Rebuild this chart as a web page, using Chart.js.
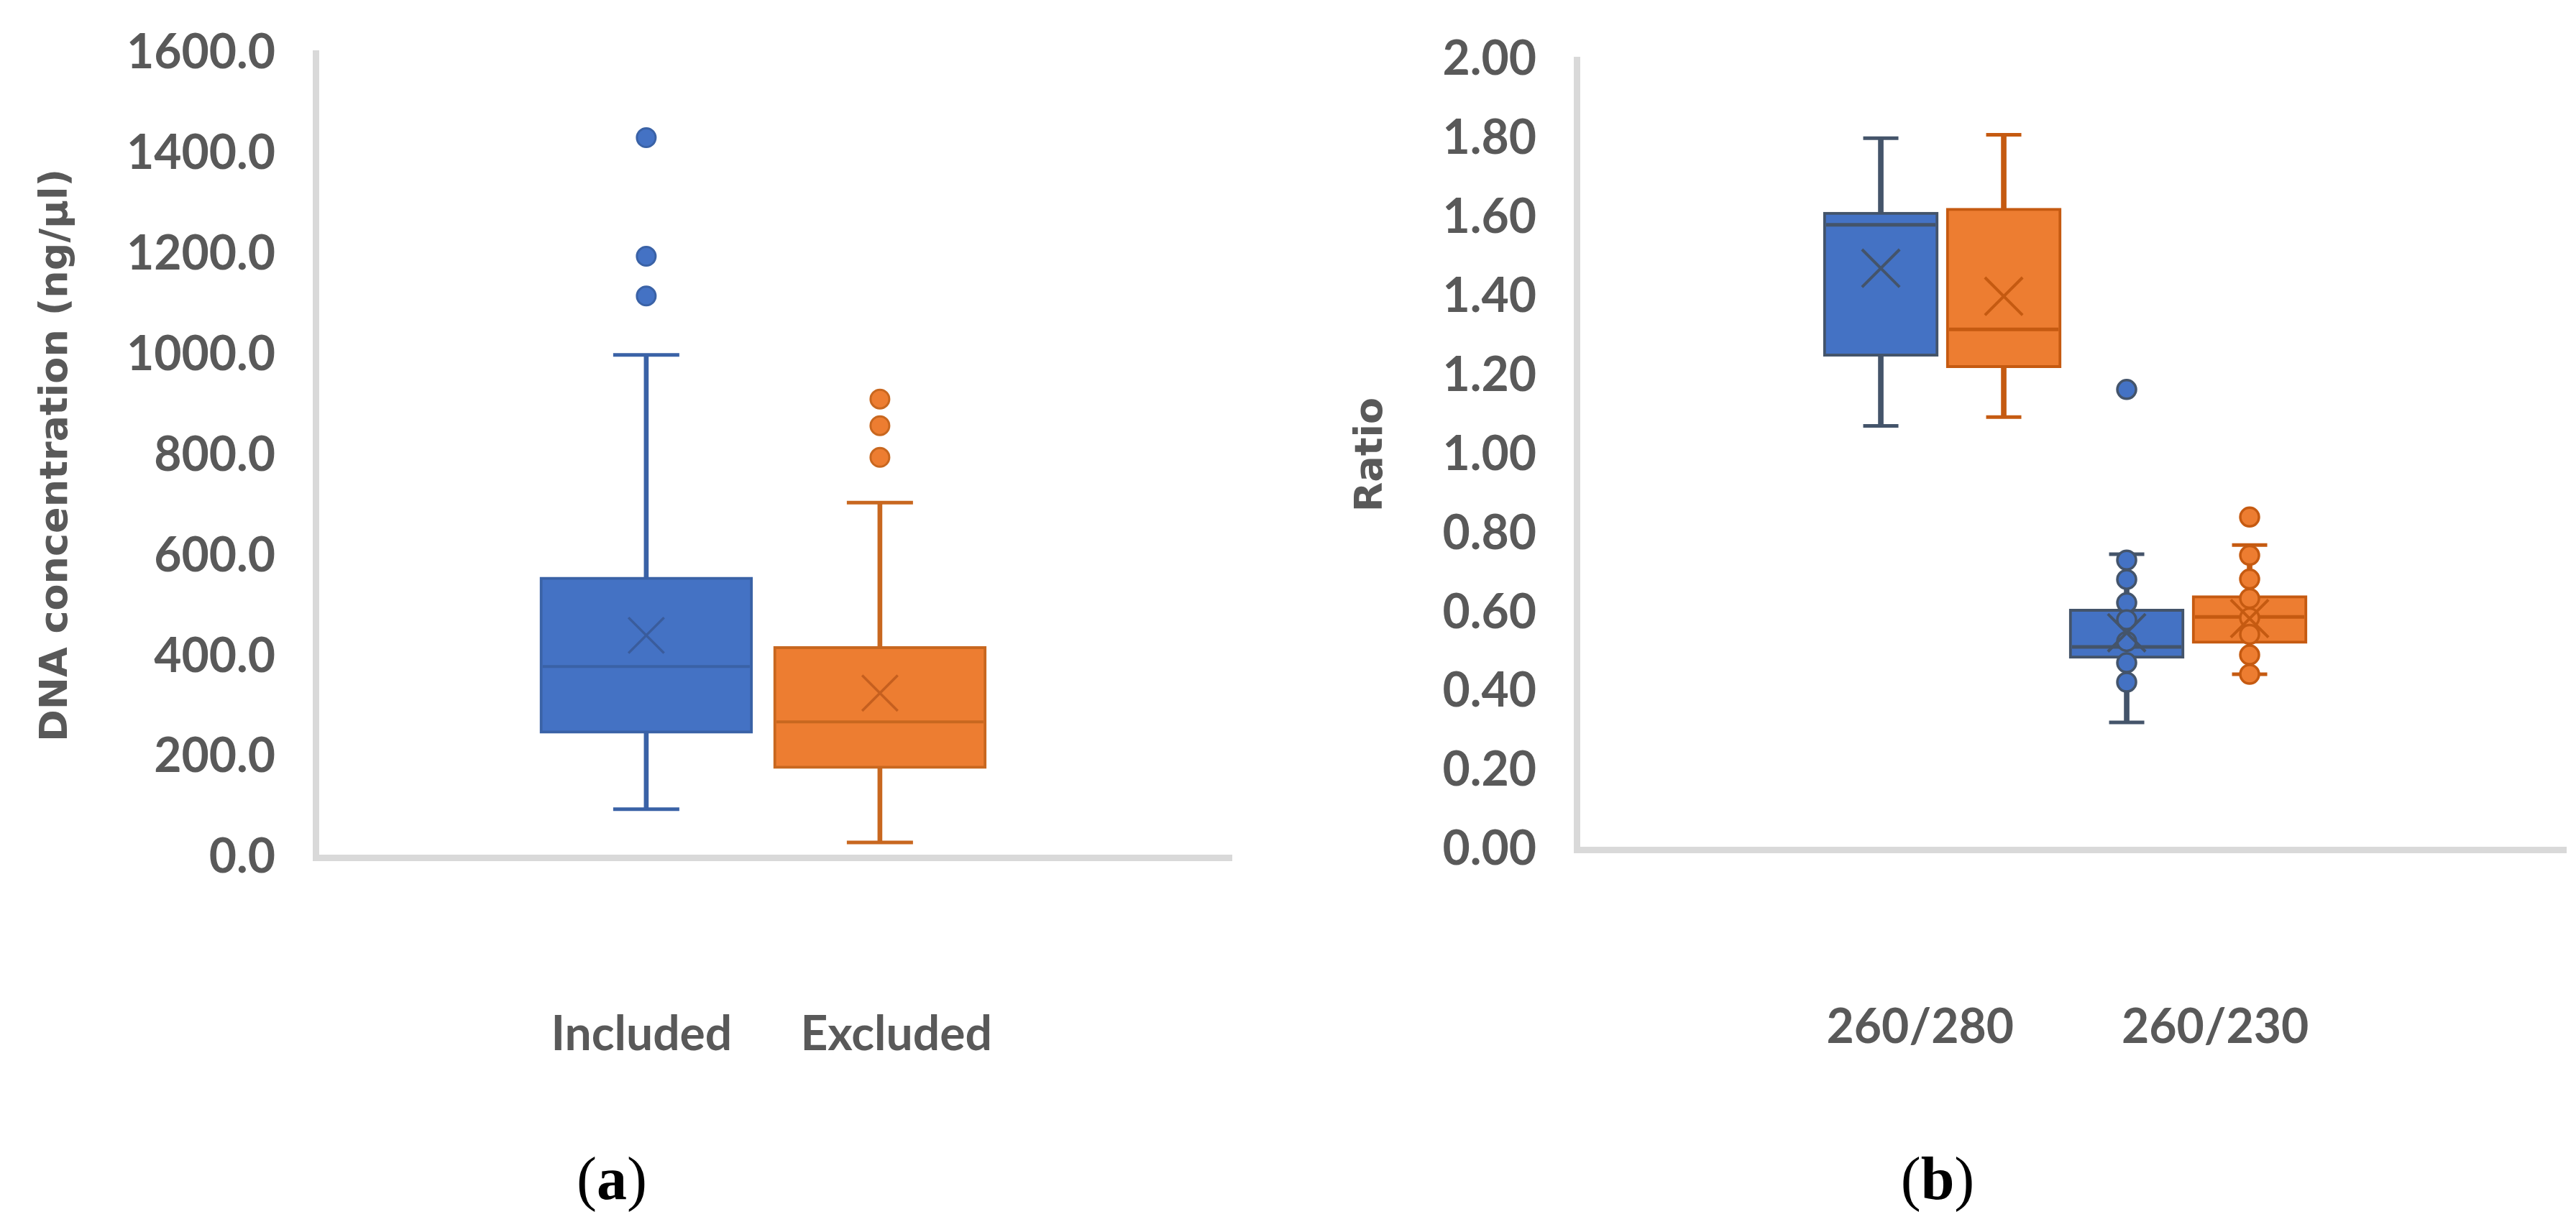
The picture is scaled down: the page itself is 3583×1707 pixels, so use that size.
<!DOCTYPE html>
<html>
<head>
<meta charset="utf-8">
<script src="https://cdn.jsdelivr.net/npm/chart.js@4.4.0/dist/chart.umd.min.js"></script>
<style>
  html, body { margin: 0; padding: 0; background: #ffffff; width: 3583px; height: 1707px; overflow: hidden; }
  #wa { position: absolute; left: 0; top: 0; width: 1790px; height: 1707px; }
  #wb { position: absolute; left: 1790px; top: 0; width: 1793px; height: 1707px; }
  .cap { position: absolute; font-family: 'Liberation Serif', 'Times New Roman', serif; font-size: 84px;
         color: #000; transform: translate(-50%, -50%); line-height: 1; white-space: nowrap; }
</style>
</head>
<body>
<div id="wa"><canvas id="ca"></canvas></div>
<div id="wb"><canvas id="cb"></canvas></div>
<div class="cap" style="left:851px; top:1640px;">(<b>a</b>)</div>
<div class="cap" style="left:2695px; top:1640px;">(<b>b</b>)</div>
<script>
// ---------------- DATA: panel (a) DNA concentration ----------------
const concCategories = ['Included', 'Excluded'];
const concYTickLabels = ['0.0', '200.0', '400.0', '600.0', '800.0', '1000.0', '1200.0', '1400.0', '1600.0'];
const concMin    = [96, 30];
const concQ1     = [247, 177];
const concMedian = [380, 270];
const concQ3     = [558, 420];
const concMax    = [1000, 706];
const concMean   = [442, 327];
const concOutliers = [[1117, 1196, 1432], [796, 859, 912]];

// ---------------- DATA: panel (b) purity ratios ----------------
const ratioGroups = ['260/280', '260/230'];
const ratioSeries = ['Included', 'Excluded'];
const ratioYTickLabels = ['0.00', '0.20', '0.40', '0.60', '0.80', '1.00', '1.20', '1.40', '1.60', '1.80', '2.00'];
const ratioIncMin    = [1.073, 0.322];
const ratioIncQ1     = [1.249, 0.484];
const ratioIncMedian = [1.582, 0.513];
const ratioIncQ3     = [1.614, 0.609];
const ratioIncMax    = [1.801, 0.748];
const ratioIncMean   = [1.472, 0.549];
const ratioIncPoints = [[], [1.165, 0.733, 0.684, 0.625, 0.582, 0.527, 0.473, 0.424]];
const ratioExcMin    = [1.095, 0.444];
const ratioExcQ1     = [1.220, 0.522];
const ratioExcMedian = [1.317, 0.589];
const ratioExcQ3     = [1.624, 0.643];
const ratioExcMax    = [1.810, 0.771];
const ratioExcMean   = [1.401, 0.585];
const ratioExcPoints = [[], [0.842, 0.745, 0.685, 0.636, 0.587, 0.545, 0.493, 0.444]];

// ---------------- STYLE ----------------
const TEXT = '#595959';
const AXIS = '#D9D9D9';
const FONT = 'Lato, "Open Sans", "DejaVu Sans", sans-serif';
const TITLE_FONT = '"DejaVu Sans", Verdana, sans-serif';

function makeBoxDatasets(label, xs, d, st, sz) {
  const idx = xs.map((x, i) => i);
  return [
    { type: 'bar', label: label + ' whiskers',
      data: idx.map(i => ({ x: xs[i], y: [d.min[i], d.max[i]] })),
      backgroundColor: st.line, borderWidth: 0, barThickness: sz.whisker, grouped: false, order: 6 },
    { type: 'bar', label: label,
      data: idx.map(i => ({ x: xs[i], y: [d.q1[i], d.q3[i]] })),
      backgroundColor: st.fill, borderColor: st.line, borderWidth: sz.border, borderSkipped: false,
      barThickness: sz.box, grouped: false, order: 5 },
    { type: 'line', label: label + ' median', showLine: false,
      data: idx.map(i => ({ x: xs[i], y: d.med[i] })),
      pointStyle: 'line', pointRadius: sz.box / 2 - sz.border, pointBorderColor: st.line,
      pointBorderWidth: sz.median, order: 4 },
    { type: 'line', label: label + ' caps', showLine: false,
      data: idx.flatMap(i => [{ x: xs[i], y: d.min[i] }, { x: xs[i], y: d.max[i] }]),
      pointStyle: 'line', pointRadius: sz.cap, pointBorderColor: st.line,
      pointBorderWidth: sz.capW, order: 4 },
    { type: 'line', label: label + ' points', showLine: false,
      data: idx.flatMap(i => d.pts[i].map(v => ({ x: xs[i], y: v }))),
      pointStyle: 'circle', pointRadius: sz.dot, pointBackgroundColor: st.fill,
      pointBorderColor: st.dotLine, pointBorderWidth: sz.dotW, order: 3 },
    { type: 'line', label: label + ' mean', showLine: false,
      data: idx.map(i => ({ x: xs[i], y: d.mean[i] })),
      pointStyle: 'crossRot', pointRadius: sz.mean, pointBorderColor: st.mark,
      pointBorderWidth: sz.meanW, order: 2 }
  ];
}

function zeroPad(axis) {
  axis.paddingTop = 0; axis.paddingBottom = 0; axis.paddingLeft = 0; axis.paddingRight = 0;
}

function baseOptions(cfg) {
  return {
    responsive: true,
    maintainAspectRatio: false,
    animation: false,
    events: [],
    layout: { padding: cfg.padding, autoPadding: false },
    plugins: { legend: { display: false }, tooltip: { enabled: false } },
    scales: {
      x: {
        type: 'linear', offset: false, min: cfg.xMin, max: cfg.xMax,
        grid: { display: false, drawTicks: false, offset: false },
        border: { display: true, color: AXIS, width: 9 },
        afterBuildTicks: (axis) => { axis.ticks = cfg.labelSlots.map(v => ({ value: v })); },
        afterFit: (axis) => { axis.height = cfg.xHeight; zeroPad(axis); },
        ticks: {
          autoSkip: false, maxRotation: 0, padding: cfg.xPad, color: TEXT,
          font: { family: FONT, size: 66, weight: 'bold' },
          callback: (v, i) => cfg.xLabels[i]
        }
      },
      y: {
        type: 'linear', min: cfg.yMin, max: cfg.yMax,
        grid: { display: false, drawTicks: false },
        border: { display: true, color: AXIS, width: 9 },
        afterFit: (axis) => { axis.width = cfg.yWidth; zeroPad(axis); },
        title: {
          display: true, text: cfg.yTitle, color: TEXT,
          font: { family: TITLE_FONT, size: 54, weight: 'bold' },
          padding: { top: cfg.titlePad, bottom: 0 }
        },
        ticks: {
          stepSize: cfg.yStep, padding: 56, color: TEXT,
          font: { family: FONT, size: 66, weight: 'bold' },
          callback: (v, i) => cfg.yLabels[i]
        }
      }
    }
  };
}

function draw() {
  // ---------- panel (a) ----------
  const stA = [
    { fill: '#4472C4', line: '#3A62A6', dotLine: '#3A62A6', mark: '#3A5C9C' },
    { fill: '#ED7D31', line: '#C8671F', dotLine: '#C8671F', mark: '#C55F1F' }
  ];
  const szA = { whisker: 6, box: 296, border: 4, median: 4, cap: 46, capW: 5, dot: 13, dotW: 3, mean: 35, meanW: 3.5 };
  let dsA = [];
  concCategories.forEach((name, s) => {
    dsA = dsA.concat(makeBoxDatasets(name, [s], {
      min: [concMin[s]], q1: [concQ1[s]], med: [concMedian[s]], q3: [concQ3[s]], max: [concMax[s]],
      mean: [concMean[s]], pts: [concOutliers[s]]
    }, stA[s], szA));
  });
  new Chart(document.getElementById('ca'), {
    type: 'bar',
    data: { datasets: dsA },
    options: baseOptions({
      padding: { top: 74, left: 0, right: 77, bottom: 0 },
      xMin: -1.415, xMax: 2.505, labelSlots: [-0.02, 1.07], xLabels: concCategories,
      xHeight: 514, xPad: 207,
      yMin: 0, yMax: 1600, yStep: 200, yLabels: concYTickLabels, yWidth: 439,
      yTitle: 'DNA concentration (ng/µl)', titlePad: 47
    })
  });

  // ---------- panel (b) ----------
  const stB = [
    { fill: '#4472C4', line: '#44546A', dotLine: '#44546A', mark: '#44546A' },
    { fill: '#ED7D31', line: '#C55A11', dotLine: '#C55A11', mark: '#C55A11' }
  ];
  const szB = { whisker: 7, box: 160, border: 4, median: 5, cap: 24.5, capW: 5, dot: 13, dotW: 3.5, mean: 37, meanW: 4 };
  const seriesData = [
    { min: ratioIncMin, q1: ratioIncQ1, med: ratioIncMedian, q3: ratioIncQ3, max: ratioIncMax, mean: ratioIncMean, pts: ratioIncPoints },
    { min: ratioExcMin, q1: ratioExcQ1, med: ratioExcMedian, q3: ratioExcQ3, max: ratioExcMax, mean: ratioExcMean, pts: ratioExcPoints }
  ];
  let dsB = [];
  ratioSeries.forEach((name, s) => {
    const xs = ratioGroups.map((g, gi) => gi * ratioSeries.length + s);
    dsB = dsB.concat(makeBoxDatasets(name, xs, seriesData[s], stB[s], szB));
  });
  new Chart(document.getElementById('cb'), {
    type: 'bar',
    data: { datasets: dsB },
    options: baseOptions({
      padding: { top: 83, left: 0, right: 14, bottom: 0 },
      xMin: -2.474, xMax: 5.573, labelSlots: [0.32, 2.72], xLabels: ratioGroups,
      xHeight: 525, xPad: 208,
      yMin: 0, yMax: 2, yStep: 0.2, yLabels: ratioYTickLabels, yWidth: 403,
      yTitle: 'Ratio', titlePad: 86
    })
  });
}

if (document.fonts && document.fonts.load) {
  Promise.all([
    document.fonts.load('bold 66px Lato'),
    document.fonts.load('bold 54px "DejaVu Sans"'),
    document.fonts.load('84px "Liberation Serif"')
  ]).then(draw, draw);
} else {
  draw();
}
</script>
</body>
</html>
